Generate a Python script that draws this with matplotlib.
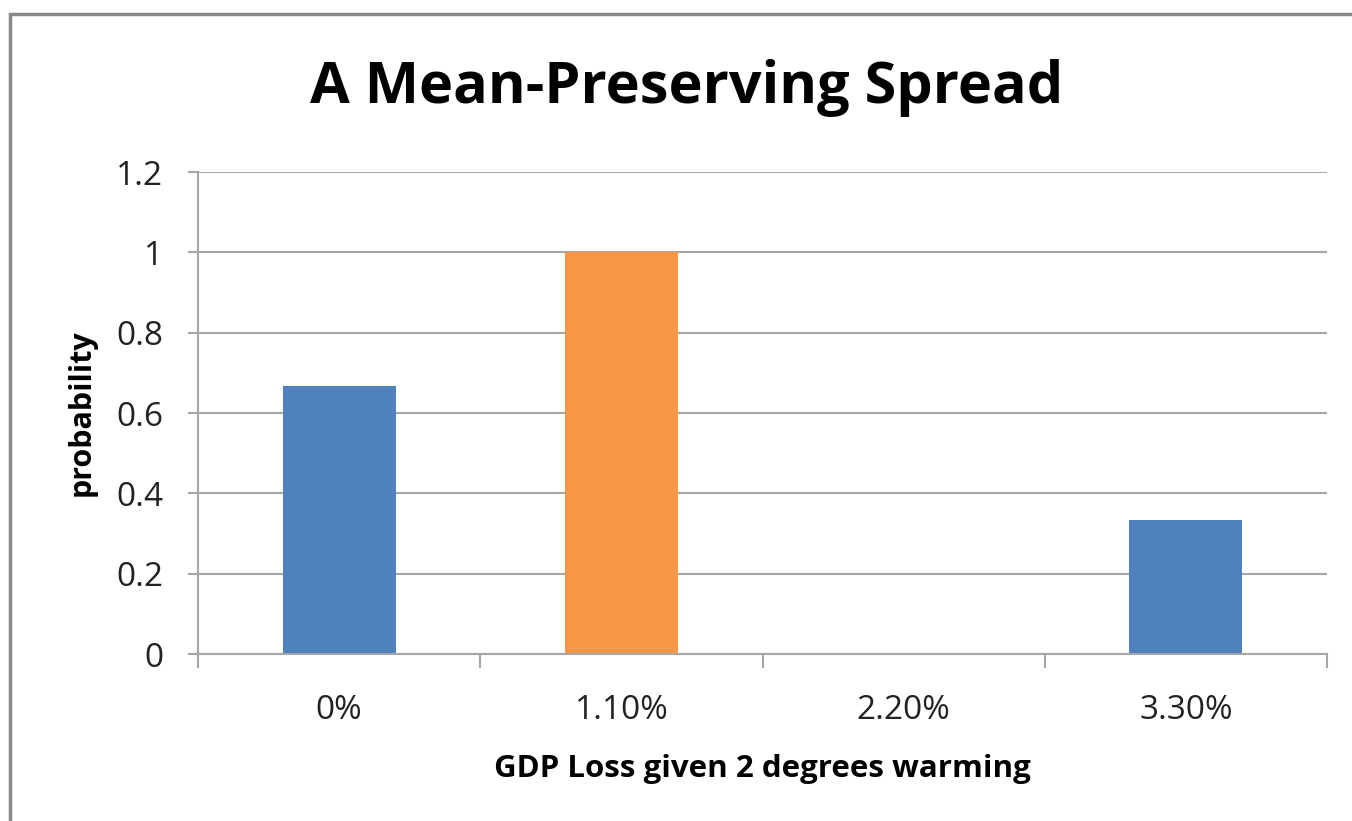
import matplotlib.pyplot as plt
from matplotlib.patches import Rectangle

# GDP loss outcomes and their probabilities
categories = ['0%', '1.10%', '2.20%', '3.30%']
probabilities = [0.6667, 1.0, 0.0, 0.3333]
bar_colors = ['#4F81BD', '#F79646', '#4F81BD', '#4F81BD']
y_ticks = [0, 0.2, 0.4, 0.6, 0.8, 1.0, 1.2]
y_tick_labels = ['0', '0.2', '0.4', '0.6', '0.8', '1', '1.2']

plt.rcParams['font.family'] = ['Open Sans', 'DejaVu Sans']

fig = plt.figure(figsize=(13.52, 8.21), dpi=100)
ax = fig.add_axes([198 / 1352, 1 - 654 / 821, 1129 / 1352, 482 / 821])

x = range(len(categories))
ax.bar(x, probabilities, width=0.4, color=bar_colors, zorder=2)

ax.set_xlim(-0.5, len(categories) - 0.5)
ax.set_ylim(0, 1.2)

# Horizontal gridlines behind the bars
ax.set_yticks(y_ticks)
ax.set_yticklabels(y_tick_labels)
ax.yaxis.grid(True, color='#A6A6A6', linewidth=1.5, zorder=0)
ax.set_axisbelow(True)

# Category labels at centres, tick marks at the boundaries
ax.set_xticks(list(x))
ax.set_xticklabels(categories)
ax.set_xticks([i - 0.5 for i in range(len(categories) + 1)], minor=True)
ax.tick_params(axis='x', which='major', length=0, pad=29, labelsize=24, colors='#222222')
ax.tick_params(axis='x', which='minor', length=10, width=1.5, color='#A6A6A6')
ax.tick_params(axis='y', which='major', length=7, width=1.5, color='#A6A6A6',
               pad=18, labelsize=24, labelcolor='#222222')

for side in ['top', 'right']:
    ax.spines[side].set_visible(False)
for side in ['left', 'bottom']:
    ax.spines[side].set_color('#A6A6A6')
    ax.spines[side].set_linewidth(1.5)

ax.set_xlabel('GDP Loss given 2 degrees warming', fontsize=22.5, fontweight='bold', labelpad=19)
ax.set_ylabel('probability', fontsize=22, fontweight='bold', labelpad=14)

fig.text(687 / 1352, 1 - 88 / 821, 'A Mean-Preserving Spread', ha='center', va='center',
         fontsize=41.5, fontweight='bold')

# Chart frame
fig.patches.append(Rectangle((10 / 1352, -0.1), 1.2, 1 - 14 / 821 + 0.1,
                             transform=fig.transFigure, fill=False,
                             edgecolor='#888888', linewidth=2.5))

fig.savefig('out.png', dpi=100)
